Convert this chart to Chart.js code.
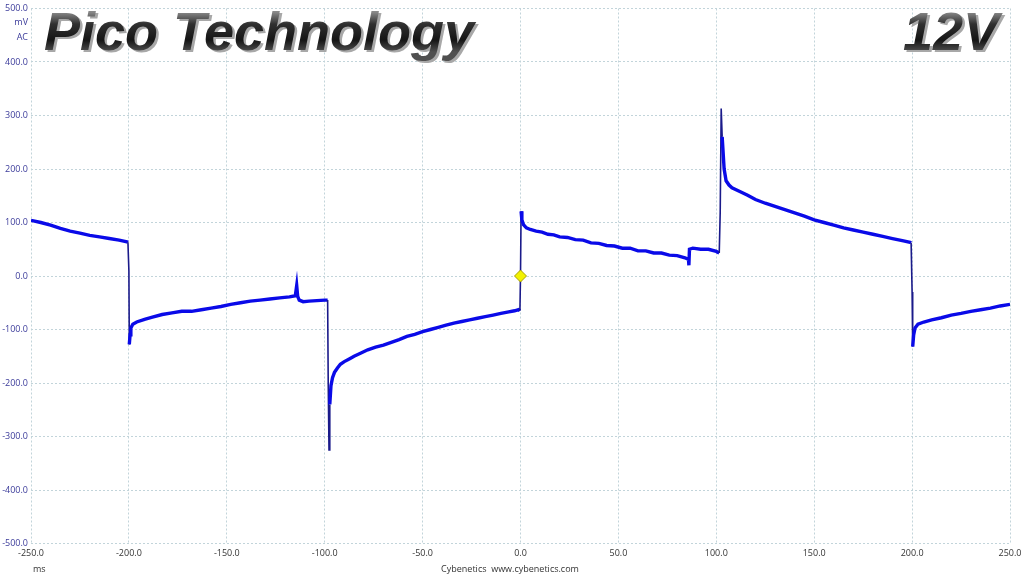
<!DOCTYPE html>
<html>
<head>
<meta charset="utf-8">
<script src="https://cdn.jsdelivr.net/npm/chart.js@4.4.0/dist/chart.umd.min.js"></script>
<style>
html,body{margin:0;padding:0;background:#fff;}
#wrap{position:relative;width:1024px;height:576px;}
</style>
</head>
<body>
<div id="wrap"><canvas id="c" width="1024" height="576"></canvas></div>
<script>
// time (ms)
const timeMs = [
-250,-245,-240,-235,-230,-225,-220,-215,-210,-205,-201,-200.5,
-200,-199.8,-199.4,-199,-198,-196,-192,-188,-183,-178,-173,-168,-163,-158,-153,-148,-143,-138,-133,-128,-123,-118,-115,
-114.3,-113.8,-113,-111,-108,-104,-100,-98.5,
-98.2,-97.8,-97.4,-96.8,-96,-95,-93.5,-92,-90,-87,-85,-82,-78,-74,-70,-66,-62,-58,-54,-50,-46,-42,-38,-34,-30,-26,-22,-18,-14,-10,-6,-3,-1,-0.3,
0,0.3,0.7,1.5,3,5,8,11,14,17,20,24,28,32,36,40,44,48,52,56,60,64,68,72,76,80,84,85.8,
86.0,86.3,88,92,96,100,101.5,
102,102.5,103,104,105,106.5,108,112,116,120,125,130,135,140,145,150,155,160,165,170,175,180,185,190,195,199,199.5,
200,200.3,200.8,201.5,203,206,210,215,220,225,230,235,240,245,250
];
// voltage ripple (mV AC)
const rippleMv = [
104,100,95,89,84,80,76,73,70,67,64,63,
10,-128,-110,-97,-90,-86,-81,-77,-72,-69,-66,-66,-63,-60,-57,-53,-50,-47,-45,-43,-41,-39,-37,
-18,-38,-45,-48,-47,-46,-45,-45,
-200,-325,-240,-205,-190,-180,-172,-165,-160,-154,-150,-145,-138,-133,-129,-124,-119,-113,-109,-104,-100,-96,-92,-88,-85,-82,-79,-76,-73,-70,-67,-65,-63,-65,
0,121,105,96,90,87,84,82,78,77,73,72,68,67,62,61,57,56,52,52,47,47,43,43,39,38,34,31,
20,50,52,50,50,46,43,
120,313,260,200,178,170,165,158,151,143,136,130,124,118,112,105,100,95,90,86,82,78,74,70,66,63,62,
-30,-132,-110,-97,-90,-86,-82,-78,-73,-70,-66,-63,-60,-56,-53
];
// trigger marker
const markerX = [0];
const markerY = [0];
const xTicks = [-250,-200,-150,-100,-50,0,50,100,150,200,250];
const yTicks = [-500,-400,-300,-200,-100,0,100,200,300,400,500];

const tracePts = timeMs.map((t,i)=>({x:t,y:rippleMv[i]}));
const markerPts = markerX.map((t,i)=>({x:t,y:markerY[i]}));

const overlay = {
  id:'overlay',
  afterDraw(chart){
    const ctx = chart.ctx;
    ctx.save();
    ctx.font = '9px "Open Sans"';
    ctx.fillStyle = '#3b3b9a';
    ctx.textAlign = 'right';
    ctx.textBaseline = 'middle';
    ctx.fillText('mV', 28, 22);
    ctx.fillText('AC', 28, 37);
    ctx.fillStyle = '#333';
    ctx.textAlign = 'left';
    ctx.fillText('ms', 33, 569);
    ctx.textAlign = 'center';
    ctx.fillText('Cybenetics  www.cybenetics.com', 510, 569);
    function bigText(txt, x, align){
      ctx.font = 'italic bold 54px "Liberation Sans"';
      ctx.textAlign = align;
      ctx.textBaseline = 'alphabetic';
      ctx.fillStyle = '#a8a8a8';
      ctx.fillText(txt, x+2.5, 52);
      const g = ctx.createLinearGradient(0, 12, 0, 52);
      g.addColorStop(0, '#8a8a8a');
      g.addColorStop(0.3, '#303030');
      g.addColorStop(0.7, '#151515');
      g.addColorStop(1, '#505050');
      ctx.fillStyle = g;
      ctx.fillText(txt, x, 50);
    }
    bigText('Pico Technology', 44, 'left');
    bigText('12V', 999, 'right');
    ctx.restore();
  }
};

new Chart(document.getElementById('c'), {
  type:'scatter',
  data:{
    datasets:[
      {
        data: markerPts,
        showLine:false,
        pointStyle:'rectRot',
        pointRadius:6,
        pointBackgroundColor:'#f2f200',
        pointBorderColor:'#a8a000',
        pointBorderWidth:1,
        order:0
      },
      {
        data: tracePts,
        showLine:true,
        borderColor:'#0a0ae8',
        borderWidth:3.4,
        pointRadius:0,
        tension:0,
        order:1,
        segment:{
          borderColor: c => Math.abs(c.p1.parsed.y - c.p0.parsed.y) > 40 && Math.abs(c.p1.parsed.x - c.p0.parsed.x) < 0.6 ? '#1a1a8a' : undefined,
          borderWidth: c => Math.abs(c.p1.parsed.y - c.p0.parsed.y) > 40 && Math.abs(c.p1.parsed.x - c.p0.parsed.x) < 0.6 ? 1.6 : undefined
        }
      }
    ]
  },
  options:{
    responsive:false,
    animation:false,
    layout:{padding:{top:8.5,right:14,left:0,bottom:0}},
    plugins:{legend:{display:false},tooltip:{enabled:false}},
    scales:{
      x:{
        type:'linear', min:-250, max:250,
        afterBuildTicks: s => { s.ticks = xTicks.map(v=>({value:v})); },
        afterFit: s => { s.height = 32.5; s.paddingLeft = 0; s.paddingRight = 0; },
        grid:{color:'#c2d4da', lineWidth:1, drawTicks:false},
        border:{display:false, dash:[2,2]},
        ticks:{padding:5, color:'#333', font:{family:'"Open Sans"', size:9}, maxRotation:0, autoSkip:false,
          callback: v => Number(v).toFixed(1)}
      },
      y:{
        type:'linear', min:-500, max:500,
        afterBuildTicks: s => { s.ticks = yTicks.map(v=>({value:v})); },
        afterFit: s => { s.width = 31; s.paddingTop = 0; s.paddingBottom = 0; },
        grid:{color:'#c2d4da', lineWidth:1, drawTicks:false},
        border:{display:false, dash:[2,2]},
        ticks:{padding:3, color:'#3b3b9a', font:{family:'"Open Sans"', size:9}, autoSkip:false,
          callback: v => Number(v).toFixed(1)}
      }
    }
  },
  plugins:[overlay]
});
</script>
</body>
</html>
